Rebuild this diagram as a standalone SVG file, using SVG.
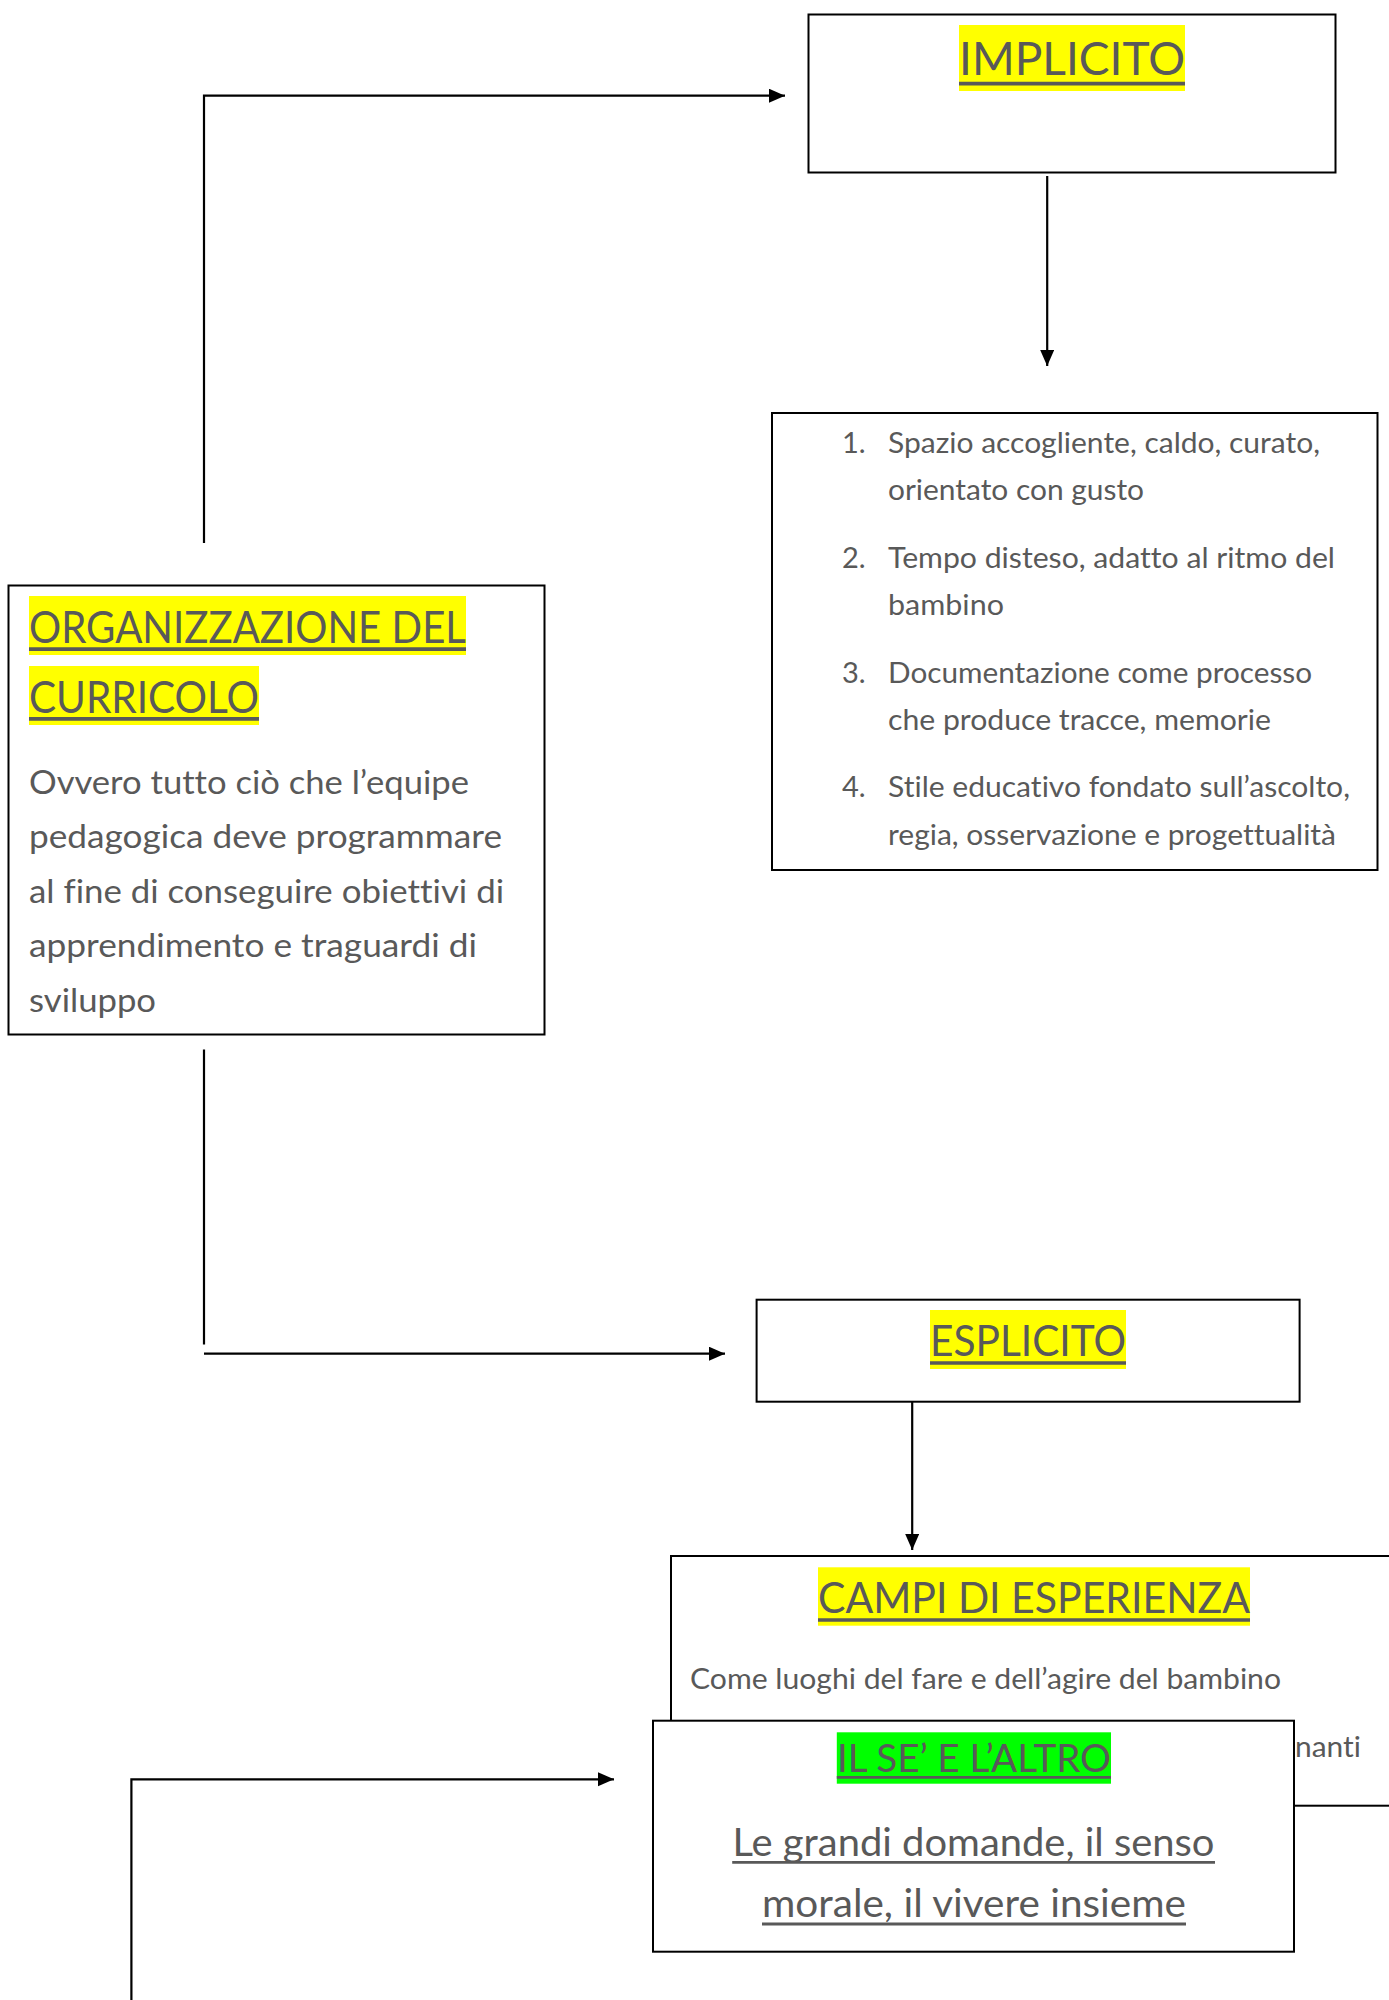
<svg xmlns="http://www.w3.org/2000/svg" width="1389" height="2000" viewBox="0 0 1389 2000">
<style>
.box{fill:#fff;stroke:#000;stroke-width:2}
.t{font-family:Lato,"Liberation Sans",sans-serif;fill:#595959;font-variant-ligatures:none;font-feature-settings:"liga" 0,"clig" 0,"dlig" 0}
.ul{stroke:#595959;fill:none}
.conn{fill:none;stroke:#000;stroke-width:2.2}
.hy{fill:#ffff00}
.hg{fill:#00ff00}
</style>
<defs>
<marker id="ah" markerUnits="userSpaceOnUse" markerWidth="17" markerHeight="15" refX="16" refY="7" orient="auto">
<path d="M0,0 L16,7 L0,14 z" fill="#000"/>
</marker>
</defs>
<rect width="1389" height="2000" fill="#fff"/>
<g id="connectors">
<path class="conn" d="M204,543 V95.7 H785" marker-end="url(#ah)"/>
<path class="conn" d="M1047.2,176 V366" marker-end="url(#ah)"/>
<path class="conn" d="M204,1049.5 V1344.5"/>
<path class="conn" d="M204,1353.7 H725" marker-end="url(#ah)"/>
<path class="conn" d="M912.2,1402 V1550" marker-end="url(#ah)"/>
<path class="conn" d="M131.4,2000 V1779.3 H614" marker-end="url(#ah)"/>
</g>
<g id="implicito">
<rect class="box" x="808.5" y="14.5" width="527" height="158"/>
<rect class="hy" x="959" y="25" width="226" height="66"/>
<text class="t" x="959" y="75" font-size="46" textLength="226" lengthAdjust="spacingAndGlyphs">IMPLICITO</text>
<line class="ul" x1="959" y1="83.7" x2="1185" y2="83.7" stroke-width="3.8"/>
</g>
<g id="lista">
<rect class="box" x="772" y="413" width="605.5" height="457"/>
<g class="t" font-size="29">
<text x="842" y="453">1.</text>
<text x="888" y="453" textLength="432" lengthAdjust="spacingAndGlyphs">Spazio accogliente, caldo, curato,</text>
<text x="888" y="500" textLength="256" lengthAdjust="spacingAndGlyphs">orientato con gusto</text>
<text x="842" y="568">2.</text>
<text x="888" y="568" textLength="447" lengthAdjust="spacingAndGlyphs">Tempo disteso, adatto al ritmo del</text>
<text x="888" y="615" textLength="116" lengthAdjust="spacingAndGlyphs">bambino</text>
<text x="842" y="682.5">3.</text>
<text x="888" y="682.5" textLength="424" lengthAdjust="spacingAndGlyphs">Documentazione come processo</text>
<text x="888" y="730" textLength="383" lengthAdjust="spacingAndGlyphs">che produce tracce, memorie</text>
<text x="842" y="797">4.</text>
<text x="888" y="797" textLength="462" lengthAdjust="spacingAndGlyphs">Stile educativo fondato sull’ascolto,</text>
<text x="888" y="844.5" textLength="448" lengthAdjust="spacingAndGlyphs">regia, osservazione e progettualità</text>
</g>
</g>
<g id="organizzazione">
<rect class="box" x="8.5" y="585.5" width="536" height="449"/>
<rect class="hy" x="29" y="596" width="437" height="59"/>
<rect class="hy" x="29" y="666" width="230" height="59"/>
<text class="t" x="29" y="643.3" font-size="44" textLength="437" lengthAdjust="spacingAndGlyphs">ORGANIZZAZIONE DEL</text>
<text class="t" x="29" y="712.7" font-size="44" textLength="230" lengthAdjust="spacingAndGlyphs">CURRICOLO</text>
<line class="ul" x1="29" y1="649.2" x2="466" y2="649.2" stroke-width="3.7"/>
<line class="ul" x1="29" y1="718.9" x2="259" y2="718.9" stroke-width="3.7"/>
<g class="t" font-size="33.5">
<text x="29" y="794" textLength="440" lengthAdjust="spacingAndGlyphs">Ovvero tutto ciò che l’equipe</text>
<text x="29" y="848" textLength="473" lengthAdjust="spacingAndGlyphs">pedagogica deve programmare</text>
<text x="29" y="902.5" textLength="475" lengthAdjust="spacingAndGlyphs">al fine di conseguire obiettivi di</text>
<text x="29" y="957" textLength="448" lengthAdjust="spacingAndGlyphs">apprendimento e traguardi di</text>
<text x="29" y="1012" textLength="127" lengthAdjust="spacingAndGlyphs">sviluppo</text>
</g>
</g>
<g id="esplicito">
<rect class="box" x="756.6" y="1299.7" width="543" height="102"/>
<rect class="hy" x="930" y="1310" width="196" height="59"/>
<text class="t" x="930" y="1356" font-size="43" textLength="196" lengthAdjust="spacingAndGlyphs">ESPLICITO</text>
<line class="ul" x1="930" y1="1363" x2="1126" y2="1363" stroke-width="3.6"/>
</g>
<g id="campi">
<rect class="box" x="671" y="1556" width="740" height="249.7"/>
<rect class="hy" x="818" y="1567.3" width="432" height="58.4"/>
<text class="t" x="818" y="1612.7" font-size="43" textLength="432" lengthAdjust="spacingAndGlyphs">CAMPI DI ESPERIENZA</text>
<line class="ul" x1="818" y1="1620" x2="1250" y2="1620" stroke-width="3.5"/>
<text class="t" x="690" y="1689.3" font-size="29" textLength="591" lengthAdjust="spacingAndGlyphs">Come luoghi del fare e dell’agire del bambino</text>
<text class="t" x="1295" y="1756.7" font-size="29" textLength="66" lengthAdjust="spacingAndGlyphs">nanti</text>
</g>
<g id="il-se-e-altro">
<rect class="box" x="653" y="1720.7" width="641" height="231"/>
<rect class="hg" x="836.8" y="1732.3" width="274.2" height="51.4"/>
<text class="t" x="837" y="1772.3" font-size="38" textLength="274" lengthAdjust="spacingAndGlyphs">IL SE’ E L’ALTRO</text>
<line class="ul" x1="836.8" y1="1777.3" x2="1111" y2="1777.3" stroke-width="2.8"/>
<text class="t" x="732.5" y="1855.7" font-size="38" textLength="482" lengthAdjust="spacingAndGlyphs">Le grandi domande, il senso</text>
<line class="ul" x1="732.2" y1="1862.3" x2="1215" y2="1862.3" stroke-width="2.8"/>
<text class="t" x="762" y="1916.7" font-size="38" textLength="424" lengthAdjust="spacingAndGlyphs">morale, il vivere insieme</text>
<line class="ul" x1="762" y1="1924" x2="1186" y2="1924" stroke-width="2.8"/>
</g>
</svg>
